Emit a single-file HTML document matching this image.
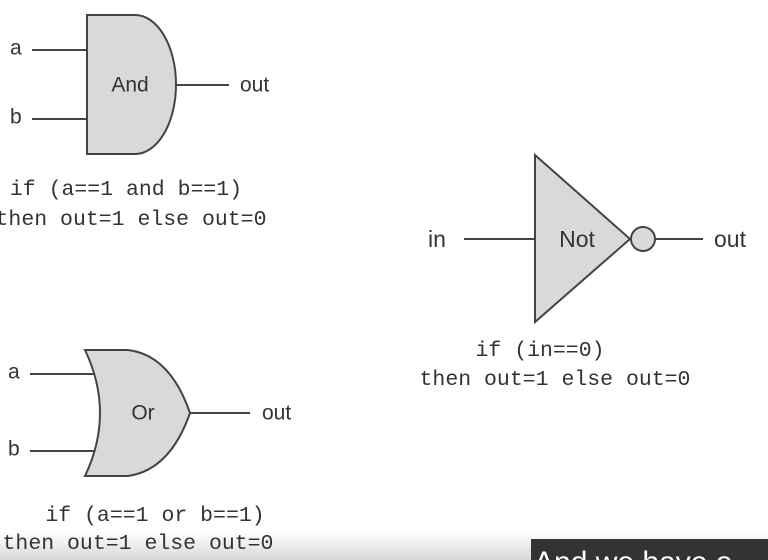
<!DOCTYPE html>
<html><head><meta charset="utf-8"><style>
html,body{margin:0;padding:0;background:#fff;width:768px;height:560px;overflow:hidden;position:relative}
svg{position:absolute;left:0;top:0}
</style></head><body>
<svg width="768" height="560" viewBox="0 0 768 560">
<defs><linearGradient id="g" x1="0" y1="0" x2="0" y2="1"><stop offset="0" stop-color="#fff"/><stop offset="1" stop-color="#d8d8d8"/></linearGradient></defs>
<rect x="0" y="532" width="768" height="28" fill="url(#g)"/>
<g stroke="#444" stroke-width="2" fill="none" font-family="Liberation Sans, sans-serif">
<g>
<line x1="32" y1="50" x2="87" y2="50"/><line x1="32" y1="119" x2="87" y2="119"/>
<line x1="176" y1="85" x2="229" y2="85"/>
<path d="M87 15 L135 15 A41 69.5 0 0 1 135 154 L87 154 Z" fill="#d9d9d9"/>
</g>
<g>
<line x1="30" y1="374" x2="97" y2="374"/><line x1="30" y1="451" x2="97" y2="451"/>
<line x1="190" y1="413" x2="250" y2="413"/>
<path d="M85 350 L128 350 Q170 355 190 413 Q170 470 128 476 L85 476 Q115 413 85 350 Z" fill="#d9d9d9"/>
</g>
<g>
<line x1="464" y1="239" x2="535" y2="239"/><line x1="655" y1="239" x2="703" y2="239"/>
<path d="M535 155 L630 239 L535 322 Z" fill="#d9d9d9"/>
<circle cx="643" cy="239" r="12" fill="#d9d9d9"/>
</g>
</g>
<g font-family="Liberation Sans, sans-serif" font-size="21" fill="#333" dominant-baseline="central">
<text x="10" y="48">a</text>
<text x="10" y="117">b</text>
<text x="130" y="85" text-anchor="middle">And</text>
<text x="240" y="85">out</text>
<text x="8" y="372">a</text>
<text x="8" y="449">b</text>
<text x="143" y="413" text-anchor="middle">Or</text>
<text x="262" y="413">out</text>
<text x="428" y="239" font-size="23">in</text>
<text x="577" y="239" text-anchor="middle" font-size="23">Not</text>
<text x="714" y="239" font-size="23">out</text>
</g>
<g font-family="Liberation Mono, monospace" font-size="21.5" fill="#333" text-anchor="middle" dominant-baseline="central">
<text x="126" y="190">if (a==1 and b==1)</text>
<text x="131" y="220">then out=1 else out=0</text>
<text x="155" y="516">if (a==1 or b==1)</text>
<text x="138" y="544">then out=1 else out=0</text>
<text x="540" y="351">if (in==0)</text>
<text x="555" y="380">then out=1 else out=0</text>
</g>
<rect x="531" y="539" width="237" height="21" fill="#333"/>
<text x="534" y="572" font-family="Liberation Sans, sans-serif" font-size="30" fill="#fff">And we have o</text>
</svg>
</body></html>
